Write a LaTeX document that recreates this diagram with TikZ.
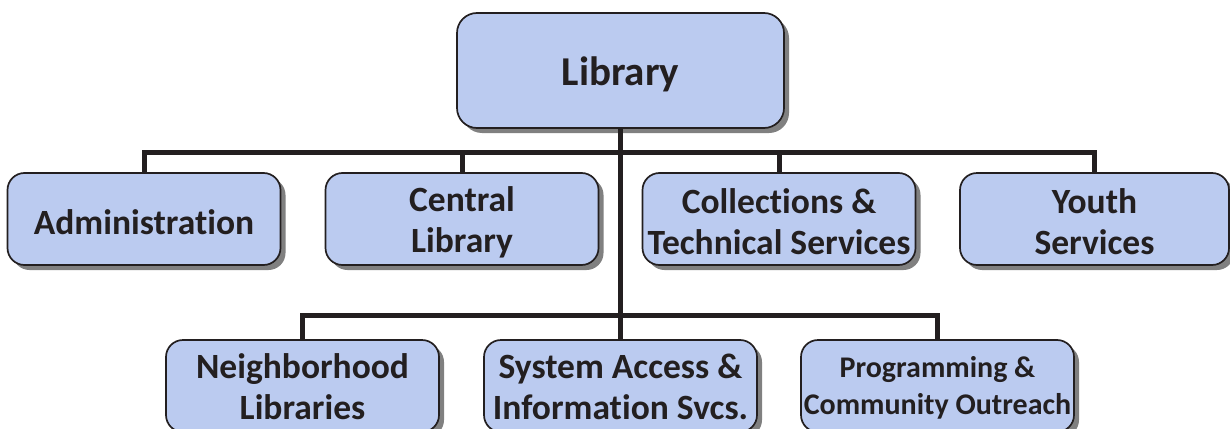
\documentclass[tikz,border=0pt]{standalone}
\usepackage{fontspec}
\setmainfont[Ligatures=NoCommon]{Carlito}
\usetikzlibrary{shadows}
\definecolor{boxfill}{RGB}{187,203,240}
\definecolor{ink}{RGB}{35,31,32}
\tikzset{
  orgbox/.style={draw=ink, line width=1.7pt, fill=boxfill, rounded corners=17pt,
    minimum width=273pt, minimum height=92pt, inner sep=0pt,
    drop shadow={shadow xshift=5pt, shadow yshift=-5pt, fill=black!50, opacity=1}},
  orgtext/.style={align=center, inner sep=0pt, text=ink,
    font=\fontsize{35.5}{41}\selectfont\bfseries},
  conn/.style={draw=ink, line width=5pt}
}
\begin{document}
\begin{tikzpicture}[x=1pt,y=-1pt]
\useasboundingbox (0,0) rectangle (1230,428);
\coordinate (bus1) at (620,152);
\coordinate (bus2) at (620,315);
% boxes
\node[orgbox, minimum width=327pt, minimum height=115pt, rounded corners=20pt] (lib) at (620.5,70.5) {};
\node[orgbox] (adm) at (144,219) {};
\node[orgbox] (cen) at (462,219) {};
\node[orgbox] (col) at (779,219) {};
\node[orgbox, minimum width=269pt] (yth) at (1094.5,219) {};
\node[orgbox] (nbh) at (302.5,386) {};
\node[orgbox] (sys) at (620.5,386) {};
\node[orgbox] (prg) at (937.5,386) {};
% texts
\node[orgtext, font=\fontsize{41}{48}\selectfont\bfseries] (libt) at ([yshift=-4pt]lib.center) {Library};
\node[orgtext] (admt) at ([yshift=-3pt]adm.center) {Administration};
\node[orgtext] (cent) at ([yshift=-3pt]cen.center) {Central\\Library};
\node[orgtext] (colt) at ([yshift=-3pt]col.center) {Collections \&\\Technical Services};
\node[orgtext] (ytht) at ([yshift=-3pt]yth.center) {Youth\\Services};
\node[orgtext] (nbht) at ([yshift=-1pt]nbh.center) {Neighborhood\\Libraries};
\node[orgtext] (syst) at ([yshift=-1pt]sys.center) {System Access \&\\Information Svcs.};
\node[orgtext, font=\fontsize{30}{37}\selectfont\bfseries] (prgt) at ([yshift=-2pt]prg.center) {Programming \&\\Community Outreach};
% connectors
\draw[conn] (lib.south) -- (sys.north);
\draw[conn] (adm.north) |- (bus1) -| (yth.north);
\draw[conn] (cen.north) -- (cen.north |- bus1);
\draw[conn] (col.north) -- (col.north |- bus1);
\draw[conn] (nbh.north) |- (bus2) -| (prg.north);
\end{tikzpicture}
\end{document}
